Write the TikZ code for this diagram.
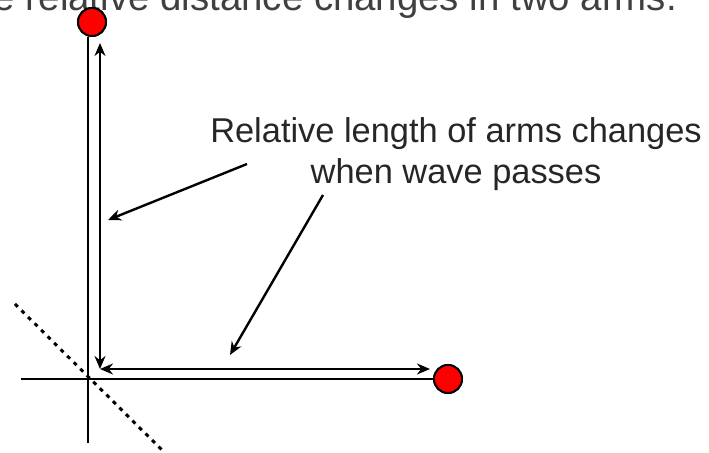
\documentclass[tikz,border=0pt]{standalone}
\usepackage{fontspec}
\setmainfont{Liberation Sans}
\usetikzlibrary{arrows.meta}
\begin{document}
\begin{tikzpicture}[x=0.5pt,y=-0.5pt,
  arm/.style={line width=1.4pt},
  mass/.style={circle,draw,line width=1pt,fill=red,minimum size=14pt,inner sep=0pt},
  probe/.style={line width=1.2pt,-{Stealth[length=6.5pt,width=5.5pt]}},
  both/.style={line width=1.2pt,{Stealth[length=6.5pt,width=5.5pt]}-{Stealth[length=6.5pt,width=5.5pt]}},
  wave/.style={line width=1.5pt,dash pattern=on 2pt off 2.6pt},
  lbl/.style={font=\fontsize{17.2}{20.5}\selectfont,text=black!85,align=center}]
\clip (0,0) rectangle (709,453);
\node[font=\fontsize{19.2}{23}\selectfont,text=black!75,anchor=base east] (head) at (684,11) {e relative distance changes in two arms.};
% arms of the detector
\coordinate (vbot) at (88,443);
\coordinate (hleft) at (21,379);
\node[mass] (mass1) at (92,22) {};
\node[mass] (mass2) at (448,379) {};
\draw[arm] (vbot) -- (vbot |- mass1.south);
\draw[arm] (hleft) -- (mass2.west);
\draw[wave] (15,304) coordinate (d1) -- (162,450) coordinate (d2);
\node[mass] at (mass1) {};
\node[mass] at (mass2) {};
% arm lengths
\coordinate (corner) at (100,369);
\coordinate (ytip) at (100,43);
\coordinate (xtip) at (430,369);
\draw[both] (corner) -- (ytip);
\draw[both] (corner) -- (xtip);
% note
\node[lbl] (note) at (456,154) {Relative length of arms changes\\when wave passes};
\coordinate (a1) at (247,164);
\coordinate (a2) at (323,195);
\draw[probe] (a1) -- (108,220) coordinate (t1);
\draw[probe] (a2) -- (230,355) coordinate (t2);
\end{tikzpicture}
\end{document}
